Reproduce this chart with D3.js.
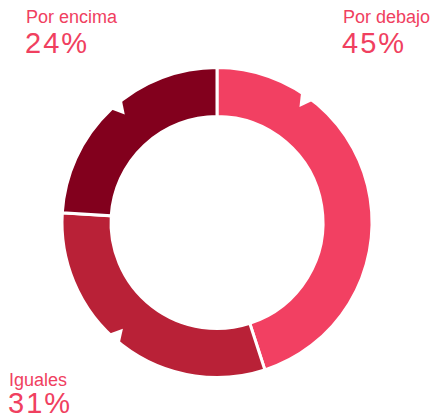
<!DOCTYPE html>
<html>
<head>
<meta charset="utf-8">
<script src="https://cdn.jsdelivr.net/npm/d3@7"></script>
<style>
  body { margin: 0; background: #fff; }
  text { font-family: "Liberation Sans", Arial, sans-serif; }
</style>
</head>
<body>
<div id="chart"></div>
<script>
var categories = ["Por debajo", "Iguales", "Por encima"];
var values = [45, 31, 24];
var colors = ["#f24062", "#b92137", "#82001d"];
// small marker notches on the outer rim (degrees, clockwise from top)
var notchAngles = [35.5, 221.5, 319.5];

var width = 435, height = 418;
var cx = 217, cy = 222.5, outerR = 155, innerR = 106;

var svg = d3.select("#chart").append("svg")
    .attr("width", width)
    .attr("height", height);

var g = svg.append("g")
    .attr("transform", "translate(" + cx + "," + cy + ")");

var pie = d3.pie().sort(null).value(function(d) { return d; });
var arc = d3.arc().innerRadius(innerR).outerRadius(outerR);

g.selectAll("path.slice")
    .data(pie(values))
    .enter().append("path")
    .attr("class", "slice")
    .attr("d", arc)
    .attr("fill", function(d, i) { return colors[i]; })
    .attr("stroke", "#fff")
    .attr("stroke-width", 3);

// notches
var rad = Math.PI / 180;
function pt(r, a) {
    return [r * Math.sin(a * rad), -r * Math.cos(a * rad)];
}
g.selectAll("path.notch")
    .data(notchAngles)
    .enter().append("path")
    .attr("class", "notch")
    .attr("fill", "#fff")
    .attr("d", function(a) {
        var p1 = pt(outerR + 2, a - 3), p2 = pt(outerR + 2, a + 3), p3 = pt(outerR - 13, a);
        return "M" + p1 + "L" + p2 + "L" + p3 + "Z";
    });

// labels
var labelPos = [
    {x: 343, y1: 23, y2: 53},
    {x: 9, y1: 386, y2: 413},
    {x: 26, y1: 23, y2: 53}
];
var textColor = "#f0405f";

var labels = svg.selectAll("g.label")
    .data(categories)
    .enter().append("g")
    .attr("class", "label");

labels.append("text")
    .attr("x", function(d, i) { return labelPos[i].x; })
    .attr("y", function(d, i) { return labelPos[i].y1; })
    .attr("fill", textColor)
    .attr("font-size", 18)
    .text(function(d) { return d; });

labels.append("text")
    .attr("x", function(d, i) { return labelPos[i].x - 1; })
    .attr("y", function(d, i) { return labelPos[i].y2; })
    .attr("fill", textColor)
    .attr("font-size", 29)
    .attr("letter-spacing", 2)
    .text(function(d, i) { return values[i] + "%"; });
</script>
</body>
</html>
